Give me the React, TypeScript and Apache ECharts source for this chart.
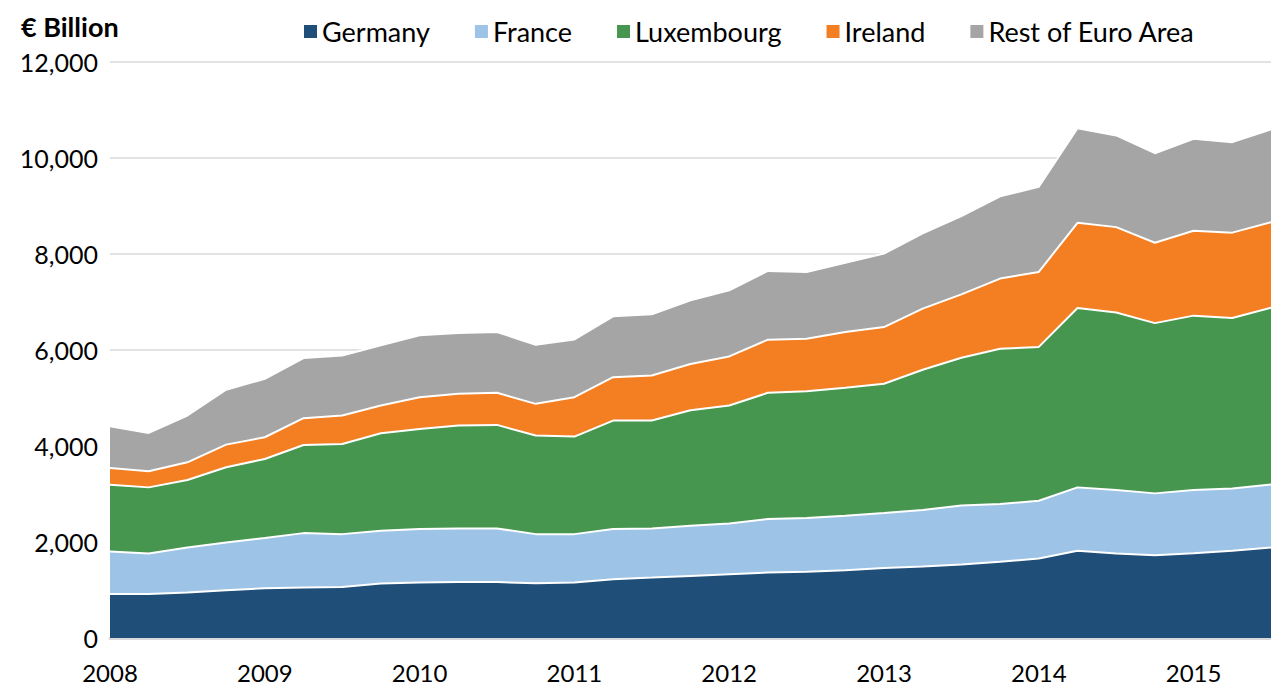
import React, { useEffect, useRef } from "react";
import * as echarts from "echarts";

const quarters = [
  "2008 Q1", "2008 Q2", "2008 Q3", "2008 Q4",
  "2009 Q1", "2009 Q2", "2009 Q3", "2009 Q4",
  "2010 Q1", "2010 Q2", "2010 Q3", "2010 Q4",
  "2011 Q1", "2011 Q2", "2011 Q3", "2011 Q4",
  "2012 Q1", "2012 Q2", "2012 Q3", "2012 Q4",
  "2013 Q1", "2013 Q2", "2013 Q3", "2013 Q4",
  "2014 Q1", "2014 Q2", "2014 Q3", "2014 Q4",
  "2015 Q1", "2015 Q2", "2015 Q3",
];

const germany = [
  915, 915, 946, 995, 1037, 1051, 1065, 1134, 1155, 1169, 1165, 1140, 1155, 1225, 1259, 1294,
  1329, 1364, 1378, 1413, 1460, 1489, 1530, 1587, 1655, 1816, 1761, 1726, 1768, 1816, 1887,
];
const france = [
  887, 845, 940, 995, 1044, 1134, 1099, 1100, 1114, 1113, 1117, 1024, 1009, 1044, 1023, 1046,
  1058, 1116, 1120, 1134, 1143, 1177, 1230, 1204, 1205, 1322, 1322, 1287, 1315, 1301, 1311,
];
const luxembourg = [
  1392, 1378, 1406, 1566, 1649, 1837, 1879, 2031, 2087, 2144, 2158, 2053, 2032, 2261, 2248, 2405,
  2456, 2628, 2645, 2665, 2693, 2922, 3080, 3235, 3205, 3737, 3697, 3547, 3633, 3548, 3682,
];
const ireland = [
  348, 334, 368, 473, 452, 557, 592, 578, 661, 661, 668, 661, 821, 904, 940, 965,
  1023, 1107, 1092, 1162, 1182, 1274, 1320, 1462, 1562, 1775, 1780, 1675, 1769, 1780, 1780,
];
const restOfEuroArea = [
  870, 801, 975, 1142, 1218, 1253, 1252, 1253, 1288, 1266, 1266, 1232, 1204, 1267, 1273, 1325,
  1378, 1433, 1392, 1441, 1532, 1566, 1630, 1712, 1773, 1970, 1910, 1865, 1915, 1885, 1935,
];

const seriesNames = ["Germany", "France", "Luxembourg", "Ireland", "Rest of Euro Area"];
const seriesColors = ["#1F4E79", "#9DC3E6", "#469650", "#F47E22", "#A5A5A5"];
const yTicks = [0, 2000, 4000, 6000, 8000, 10000, 12000];

const FONT = "Lato, 'Open Sans', sans-serif";

export default function App() {
  const ref = useRef<HTMLDivElement>(null);

  useEffect(() => {
    if (!ref.current) return;
    const chart = echarts.init(ref.current, null, { renderer: "svg" });
    const allData = [germany, france, luxembourg, ireland, restOfEuroArea];
    chart.setOption({
      animation: false,
      backgroundColor: "#ffffff",
      textStyle: { fontFamily: FONT },
      title: {
        text: "€ Billion",
        left: 16,
        top: 8,
        textStyle: { fontFamily: FONT, fontSize: 27, fontWeight: "bold", color: "#000000" },
      },
      legend: {
        data: seriesNames,
        left: 299,
        top: 13,
        icon: "rect",
        itemWidth: 13,
        itemHeight: 13,
        itemGap: 45,
        textStyle: { fontFamily: FONT, fontSize: 27, color: "#000000" },
      },
      grid: { left: 110, right: -12, top: 62, bottom: 50, containLabel: false },
      xAxis: {
        type: "category",
        boundaryGap: false,
        data: quarters,
        axisLine: { show: true, lineStyle: { color: "#d9d9d9", width: 3 } },
        axisTick: { show: false },
        splitLine: { show: false },
        axisLabel: {
          interval: 3,
          margin: 22,
          fontFamily: FONT,
          fontSize: 24,
          lineHeight: 24,
          color: "#000000",
          formatter: (v: string) => v.slice(0, 4),
        },
      },
      yAxis: {
        type: "value",
        min: yTicks[0],
        max: yTicks[yTicks.length - 1],
        interval: 2000,
        axisLine: { show: false },
        axisTick: { show: false },
        splitLine: { show: true, lineStyle: { color: "#e3e3e3", width: 2 } },
        axisLabel: {
          margin: 12,
          fontFamily: FONT,
          fontSize: 25,
          color: "#000000",
          formatter: (v: number) => v.toLocaleString("en-US"),
        },
      },
      series: seriesNames.map((name, i) => ({
        name,
        type: "line",
        stack: "total",
        data: allData[i],
        showSymbol: false,
        symbol: "none",
        itemStyle: { color: seriesColors[i] },
        lineStyle: { color: "#ffffff", width: 2 },
        areaStyle: { color: seriesColors[i], opacity: 1 },
        z: 2,
      })),
    });
    return () => chart.dispose();
  }, []);

  return (
    <div
      ref={ref}
      style={{ position: "absolute", left: 0, top: 0, width: 1271, height: 688 }}
    />
  );
}
